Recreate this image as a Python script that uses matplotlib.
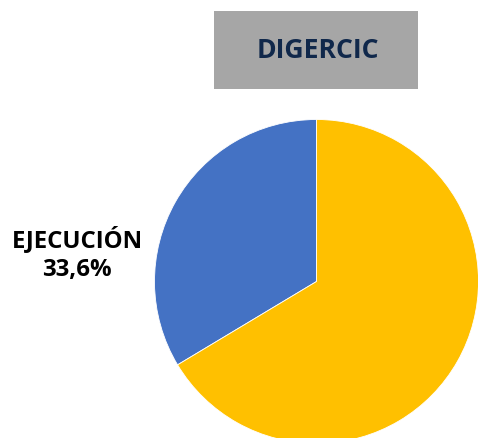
import matplotlib.pyplot as plt
from matplotlib.patches import Rectangle

# data
labels = ['EJECUCIÓN', '']
values = [33.6, 66.4]
colors = ['#4472C4', '#FFC000']
title = 'DIGERCIC'

W, H = 478, 439
fig = plt.figure(figsize=(W / 100, H / 100), dpi=100)
ax = fig.add_axes([0, 0, 1, 1])
ax.set_xlim(0, W)
ax.set_ylim(0, H)
ax.set_aspect('equal')
ax.axis('off')

# pie, starts at 12 o'clock going counterclockwise
ax.pie(values, colors=colors, startangle=90, counterclock=True,
       center=(316.5, H - 282.5), radius=162,
       wedgeprops=dict(linewidth=0.6, edgecolor='white'))
ax.set_xlim(0, W)
ax.set_ylim(0, H)

# title box
ax.add_patch(Rectangle((214, H - 90), 204, 78, facecolor='#A6A6A6',
                       edgecolor='none', zorder=3))
ax.text(318, H - 51, title, ha='center', va='center', fontsize=19.2,
        fontweight='bold', family='Open Sans', color='#10284B', zorder=4)

# data label
ax.text(77, H - 254, f'{labels[0]}\n{values[0]:.1f}%'.replace('.', ','),
        ha='center', va='center', fontsize=17.3, fontweight='bold',
        family='Open Sans', color='black', linespacing=1.3)

fig.savefig('out.png', dpi=100)
